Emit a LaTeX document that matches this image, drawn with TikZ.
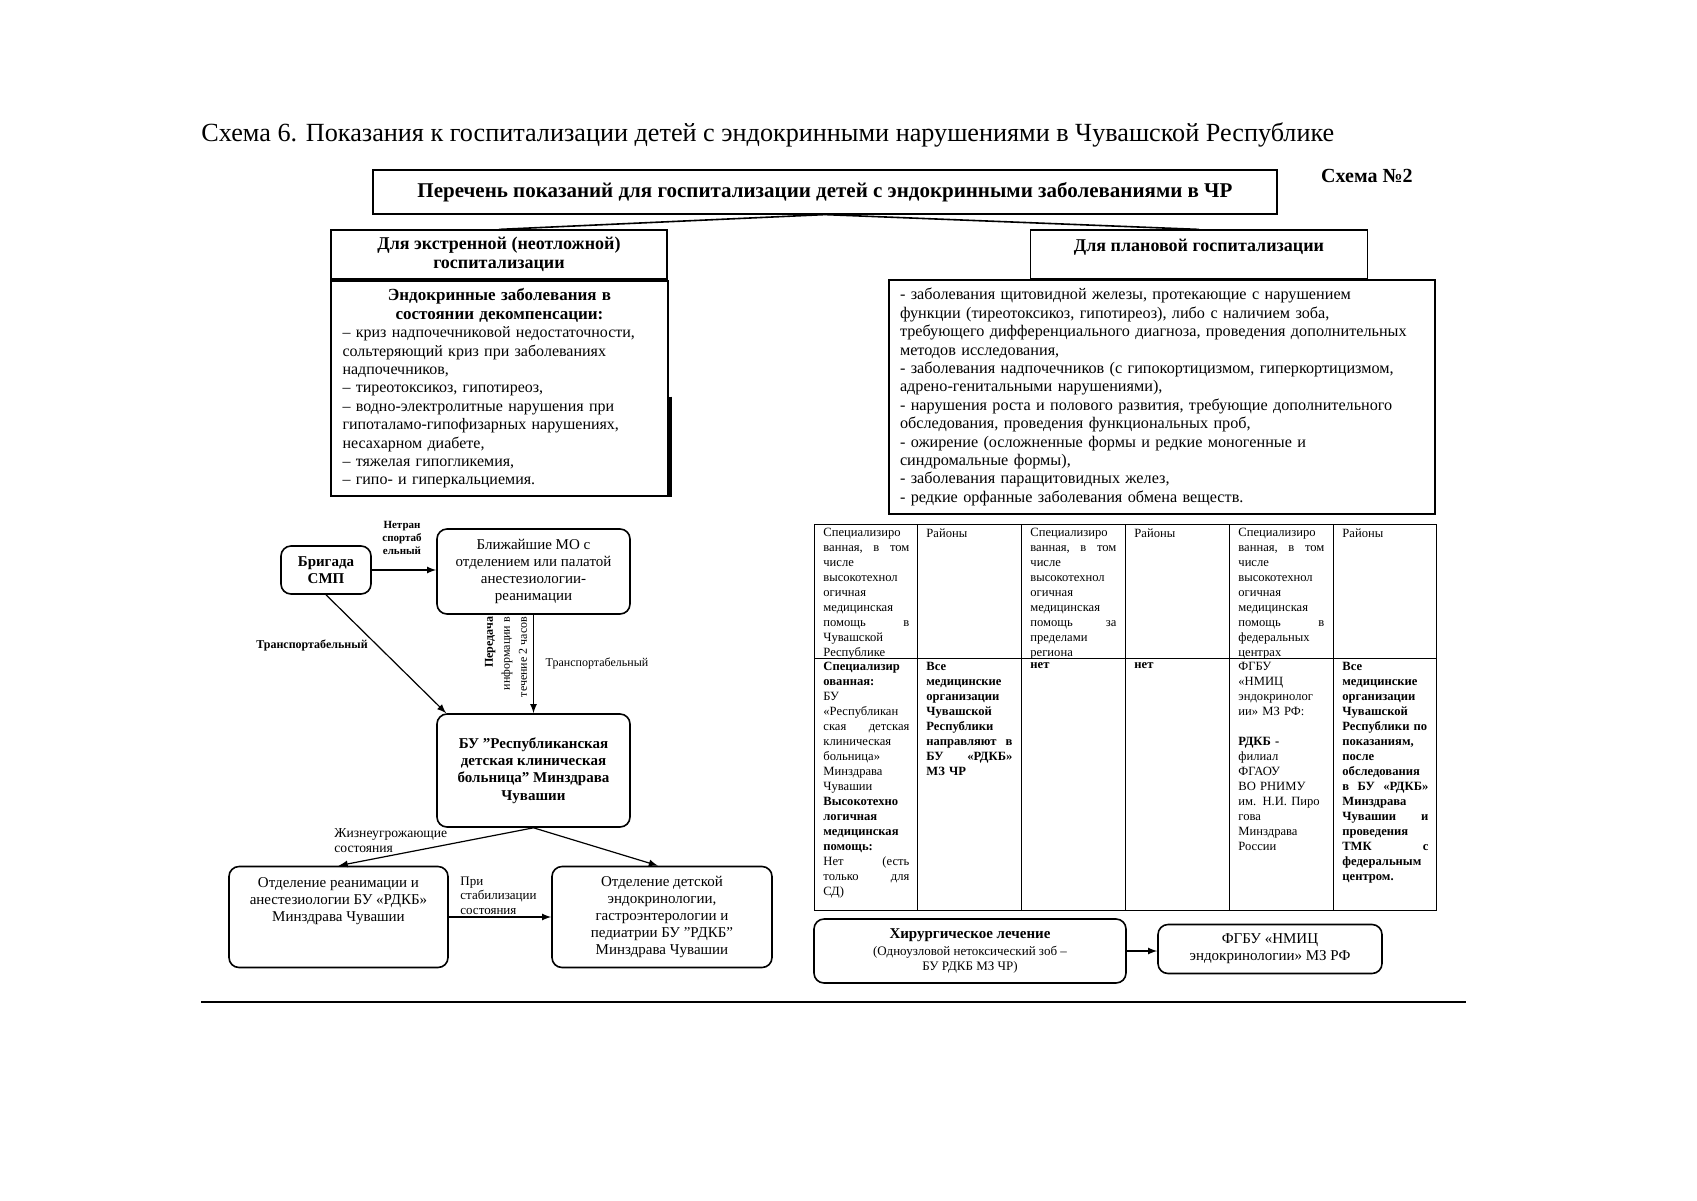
\documentclass[tikz,border=0pt]{standalone}
\usepackage{fontspec}
\setmainfont{Liberation Serif}
\usetikzlibrary{positioning}
\newcommand{\fsz}[2]{\fontsize{#1}{#2}\selectfont}
\newcommand{\bl}[1]{\textbf{#1}}
\begin{document}
\begin{tikzpicture}[x=0.5pt,y=-0.5pt,>=latex,
  box/.style={draw, line width=0.6pt, inner sep=0pt, align=center},
  rbox/.style={draw, line width=0.8pt, rounded corners=5pt, inner sep=0pt, align=center, font=\fsz{7.5}{8.6}},
  lbl/.style={inner sep=0pt, align=center, font=\bfseries\fsz{5.5}{6.3}},
  cell/.style={anchor=north west, inner sep=0pt, align=left, text width=43pt, font=\fsz{6.3}{7.5}},
  conn/.style={draw, line width=0.6pt, ->}]
\useasboundingbox (0,0) rectangle (1697,1200);

% title
\node[anchor=base west, inner sep=0pt, font=\fsz{13.1}{16}] (title) at (201,141)
  {Схема 6. Показания к госпитализации детей с эндокринными нарушениями в Чувашской Республике};

% top of the scheme
\node[box, minimum width=452pt, minimum height=22pt, font=\bfseries\fsz{10.5}{12}] (list) at (825,192)
  {Перечень показаний для госпитализации детей с эндокринными заболеваниями в ЧР};
\node[anchor=north east, inner sep=0pt, font=\bfseries\fsz{10}{12}] (scheme) at (1413,169) {Схема №2};

\node[box, minimum width=168pt, minimum height=24.5pt, font=\bfseries\fsz{9}{9.3}] (urg) at (499,254.5)
  {Для экстренной (неотложной)\\госпитализации};
\node[box, minimum width=168.5pt, minimum height=24.5pt, font=\bfseries\fsz{9}{9.3}] (plan) at (1199,254.5)
  {Для плановой госпитализации\\\mbox{}};

\draw[line width=0.8pt] (list.south) -- (urg.north);
\draw[line width=0.8pt] (list.south) -- (plan.north);

\node[draw, line width=0.6pt, inner sep=0pt, minimum width=168.5pt, minimum height=107.5pt,
  text width=157pt, font=\fsz{8}{9.2}] (ucont) at (499.5,388.5)
  {{\centering\bfseries\fsz{8.5}{9.2}Эндокринные заболевания в\\состоянии декомпенсации:\par}
   – криз надпочечниковой недостаточности,\\
   сольтеряющий криз при заболеваниях\\
   надпочечников,\\
   – тиреотоксикоз, гипотиреоз,\\
   – водно-электролитные нарушения при\\
   гипоталамо-гипофизарных нарушениях,\\
   несахарном диабете,\\
   – тяжелая гипогликемия,\\
   – гипо- и гиперкальциемия.};
\draw[line width=1.4pt] ([xshift=1pt,yshift=-4pt]ucont.east) -- ([xshift=1pt]ucont.south east);

\node[draw, line width=0.6pt, inner sep=0pt, minimum width=273pt, minimum height=117pt,
  text width=262pt, align=left, font=\fsz{8.1}{9.2}] (pcont) at (1162,397)
  {- заболевания щитовидной железы, протекающие с нарушением\\
   функции (тиреотоксикоз, гипотиреоз), либо с наличием зоба,\\
   требующего дифференциального диагноза, проведения дополнительных\\
   методов исследования,\\
   - заболевания надпочечников (с гипокортицизмом, гиперкортицизмом,\\
   адрено-генитальными нарушениями),\\
   - нарушения роста и полового развития, требующие дополнительного\\
   обследования, проведения функциональных проб,\\
   - ожирение (осложненные формы и редкие моногенные и\\
   синдромальные формы),\\
   - заболевания паращитовидных желез,\\
   - редкие орфанные заболевания обмена веществ.};

% emergency route
\node[rbox, minimum width=45pt, minimum height=24pt, font=\bfseries\fsz{7.5}{8.6}] (smp) at (326,570) {Бригада\\СМП};
\node[rbox, minimum width=96.5pt, minimum height=42.5pt] (mo) at (533.5,571.5)
  {Ближайшие МО с\\отделением или палатой\\анестезиологии-\\реанимации};
\node[rbox, minimum width=96.5pt, minimum height=56.5pt, font=\bfseries\fsz{7.5}{8.6}] (rdkb) at (533.5,770.5)
  {БУ "Республиканская\\детская клиническая\\больница" Минздрава\\Чувашии};
\node[rbox, minimum width=109.5pt, minimum height=50.5pt] (reanim) at (338.5,917)
  {Отделение реанимации и\\анестезиологии БУ «РДКБ»\\Минздрава Чувашии\\\mbox{}\\\mbox{}};
\node[rbox, minimum width=110pt, minimum height=50.5pt] (endo) at (662,917)
  {Отделение детской\\эндокринологии,\\гастроэнтерологии и\\педиатрии БУ "РДКБ"\\Минздрава Чувашии};

\draw[conn] (smp.east) -- (smp.east -| mo.west);
\node[lbl] (ntr) at (402,538) {Нетран\\спортаб\\ельный};
\draw[conn] (smp.south) -- ([xshift=5pt]rdkb.north west);
\node[lbl, font=\bfseries\fsz{6}{7}] (tr1) at (312,645) {Транспортабельный};
\draw[conn] (mo.south) -- (rdkb.north);
\node[lbl, rotate=90, align=right, font=\fsz{6}{8.5}] (info) at (506,657) {\bl{Передача}\\информации в\\течение 2 часов};
\node[lbl, font=\fsz{6}{7}] (tr2) at (597,663) {Транспортабельный};

\draw[conn] (rdkb.south) -- (reanim.north);
\draw[conn] (rdkb.south) -- ([xshift=-2pt]endo.north);
\node[lbl, anchor=north west, align=left, font=\fsz{6.8}{7.5}] (life) at (334,828) {Жизнеугрожающие\\состояния};
\draw[conn] (reanim.east) -- (reanim.east -| endo.west);
\node[lbl, anchor=south west, align=left, font=\fsz{6.5}{7.3}] (stab) at (460,915) {При\\стабилизации\\состояния};

% table
\draw[line width=0.5pt] (814,524) rectangle (1436,910);
\foreach \x in {917,1021,1125,1229,1333}
  \draw[line width=0.5pt] (\x,524) -- (\x,910);
\draw[line width=0.5pt] (814,658) -- (1436,658);

\node[cell] (h1) at (823,528) {Специализиро\\ванная,\hfill в\hfill том\\числе\\высокотехнол\\огичная\\медицинская\\помощь\hfill в\\Чувашской\\Республике};
\node[cell] (h2) at (926,528) {Районы};
\node[cell] (h3) at (1030,528) {Специализиро\\ванная,\hfill в\hfill том\\числе\\высокотехнол\\огичная\\медицинская\\помощь\hfill за\\пределами\\региона};
\node[cell] (h4) at (1134,528) {Районы};
\node[cell] (h5) at (1238,528) {Специализиро\\ванная,\hfill в\hfill том\\числе\\высокотехнол\\огичная\\медицинская\\помощь\hfill в\\федеральных\\центрах};
\node[cell] (h6) at (1342,528) {Районы};

\node[cell] (c1) at (823,662) {\bl{Специализир}\\\bl{ованная:}\\БУ\\«Республикан\\ская\hfill детская\\клиническая\\больница»\\Минздрава\\Чувашии\\\bl{Высокотехно}\\\bl{логичная}\\\bl{медицинская}\\\bl{помощь:}\\Нет\hfill (есть\\только\hfill для\\СД)};
\node[cell, font=\bfseries\fsz{6.3}{7.5}] (c2) at (926,662) {Все\\медицинские\\организации\\Чувашской\\Республики\\направляют\hfill в\\БУ\hfill «РДКБ»\\МЗ ЧР};
\node[cell, font=\bfseries\fsz{6.3}{7.5}] (c3) at (1030,662) {нет};
\node[cell, font=\bfseries\fsz{6.3}{7.5}] (c4) at (1134,662) {нет};
\node[cell] (c5) at (1238,662) {ФГБУ\\«НМИЦ\\эндокринолог\\ии» МЗ РФ:\\\mbox{}\\\bl{РДКБ -}\\филиал\\ФГАОУ\\ВО РНИМУ\\им. Н.И. Пиро\\гова\\Минздрава\\России};
\node[cell, font=\bfseries\fsz{6.3}{7.5}] (c6) at (1342,662) {Все\\медицинские\\организации\\Чувашской\\Республики по\\показаниям,\\после\\обследования\\в\hfill БУ\hfill «РДКБ»\\Минздрава\\Чувашии\hfill и\\проведения\\ТМК\hfill с\\федеральным\\центром.};

% surgery
\node[rbox, minimum width=156pt, minimum height=32pt, font=\fsz{6.5}{7.4}] (surg) at (970,951)
  {{\bfseries\fsz{7.5}{8.6}Хирургическое лечение}\\[1pt](Одноузловой нетоксический зоб –\\БУ РДКБ МЗ ЧР)};
\node[rbox, minimum width=112pt, minimum height=24.5pt] (fgbu) at (1270,949)
  {ФГБУ «НМИЦ\\эндокринологии» МЗ РФ};
\draw[conn] (surg.east) -- (surg.east -| fgbu.west);

\draw[line width=1pt] (201,1002) -- (1466,1002);
\end{tikzpicture}
\end{document}
